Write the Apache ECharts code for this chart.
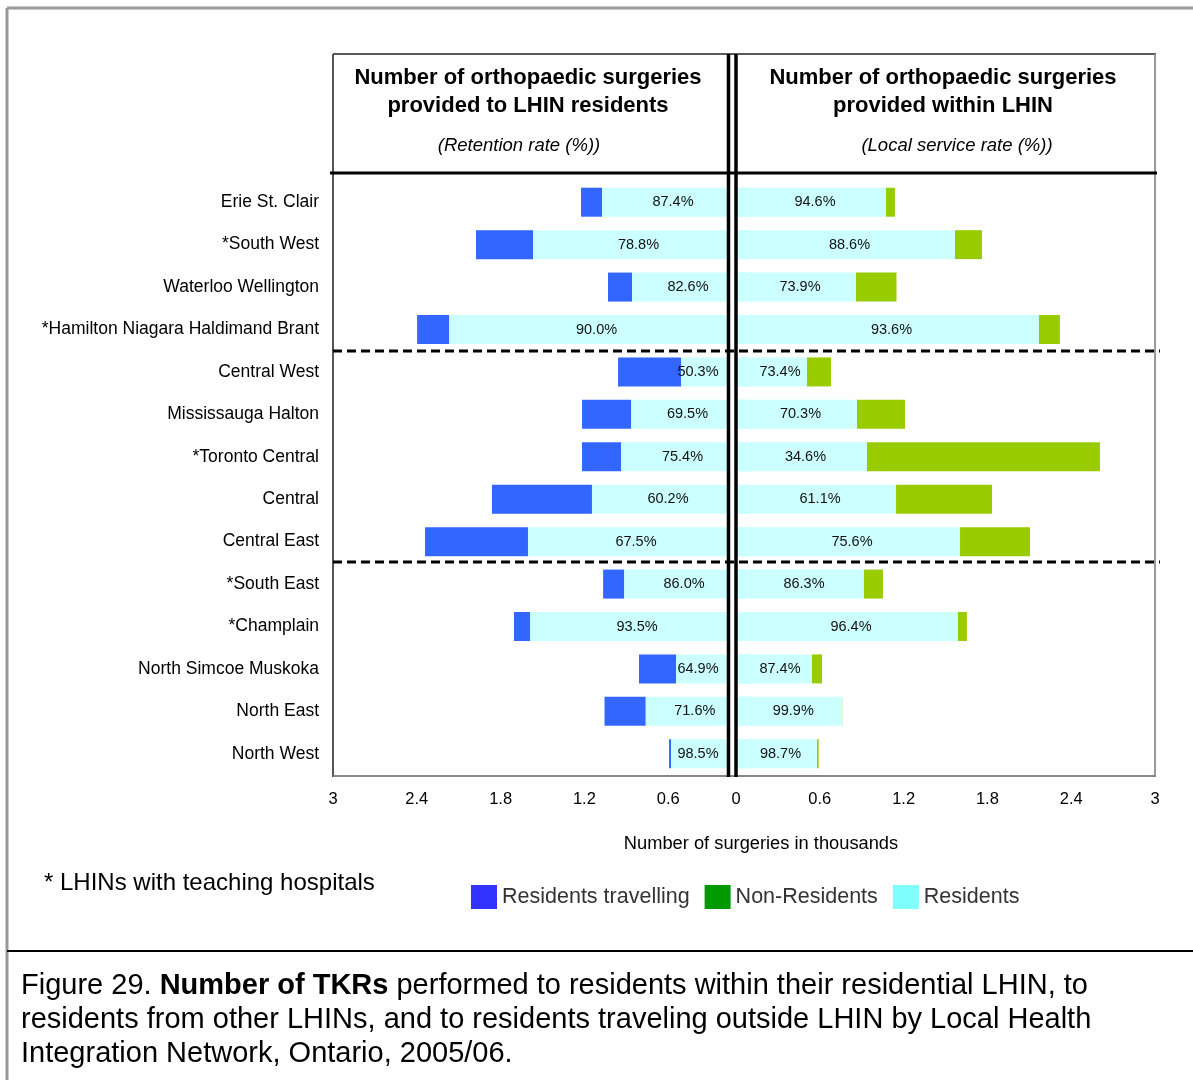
<!DOCTYPE html>
<html>
<head>
<meta charset="utf-8">
<script src="https://cdn.jsdelivr.net/npm/echarts@6/dist/echarts.min.js"></script>
<style>
html,body{margin:0;padding:0;background:#fff;}
#chart{width:1193px;height:1080px;}
</style>
</head>
<body>
<div id="chart"></div>
<script>
// ---------- data ----------
const categories = ['Erie St. Clair','*South West','Waterloo Wellington','*Hamilton Niagara Haldimand Brant','Central West','Mississauga Halton','*Toronto Central','Central','Central East','*South East','*Champlain','North Simcoe Muskoka','North East','North West'];
// thousands of surgeries
const residents    = [1.074,1.568,0.859,2.169,0.508,0.866,0.938,1.146,1.604,0.916,1.589,0.544,0.762,0.580];
const travelling   = [0.150,0.408,0.172,0.229,0.451,0.351,0.279,0.716,0.737,0.150,0.115,0.265,0.294,0.014];
const nonResidents = [0.064,0.193,0.290,0.150,0.172,0.344,1.668,0.687,0.501,0.136,0.064,0.072,0.001,0.012];
const retentionRate = ['87.4%','78.8%','82.6%','90.0%','50.3%','69.5%','75.4%','60.2%','67.5%','86.0%','93.5%','64.9%','71.6%','98.5%'];
const localServiceRate = ['94.6%','88.6%','73.9%','93.6%','73.4%','70.3%','34.6%','61.1%','75.6%','86.3%','96.4%','87.4%','99.9%','98.7%'];
const axisMax = 3, axisStep = 0.6;

// ---------- layout ----------
const FONT = "'Liberation Sans', Arial, Helvetica, sans-serif";
const GL = 333, GR = 736, GW = 419, GT = 181, GH = 594;
const PX = GW / axisMax;
const L0 = GL + GW, R0 = GR;

const leftResData = residents.map((v, i) => {
  const c = L0 - v * PX / 2;
  const d = Math.min(c - 4, 698);
  return { value: v, label: { offset: [d - c, 0] } };
});
const rightResData = residents.map((v, i) => {
  const c = R0 + v * PX / 2;
  const d = Math.max(c + 4, 780);
  return { value: v, label: { offset: [d - c, 0] } };
});

const tickFmt = v => String(Number(v.toFixed(1)));

const chart = echarts.init(document.getElementById('chart'), null, { renderer: 'canvas' });

const Z = 100;
function line(x1, y1, x2, y2, color, w, dash) {
  return { type: 'line', z: Z, silent: true, shape: { x1, y1, x2, y2 },
    style: { stroke: color, lineWidth: w, lineDash: dash || null } };
}
function text(x, y, str, font, align, extra) {
  return Object.assign({ type: 'text', z: Z, silent: true, x, y,
    style: { text: str, font: font, fill: '#000', textAlign: align || 'center', textVerticalAlign: 'middle' } }, extra || {});
}

const option = {
  backgroundColor: '#fff',
  animation: false,
  textStyle: { fontFamily: FONT },
  grid: [
    { left: GL, top: GT, width: GW, height: GH },
    { left: GR, top: GT, width: GW, height: GH }
  ],
  xAxis: [
    { type: 'value', gridIndex: 0, min: 0, max: axisMax, interval: axisStep, inverse: true,
      axisLine: { show: false }, axisTick: { show: false }, splitLine: { show: false },
      axisLabel: { color: '#000', fontSize: 16.5, fontFamily: FONT, margin: 16,
        formatter: v => v === 0 ? '' : tickFmt(v) } },
    { type: 'value', gridIndex: 1, min: 0, max: axisMax, interval: axisStep,
      axisLine: { show: false }, axisTick: { show: false }, splitLine: { show: false },
      axisLabel: { color: '#000', fontSize: 16.5, fontFamily: FONT, margin: 16, formatter: tickFmt } }
  ],
  yAxis: [
    { type: 'category', gridIndex: 0, data: categories, inverse: true,
      axisLine: { show: false }, axisTick: { show: false },
      axisLabel: { color: '#000', fontSize: 17.5, fontFamily: FONT, margin: 14 } },
    { type: 'category', gridIndex: 1, data: categories, inverse: true,
      axisLine: { show: false }, axisTick: { show: false }, axisLabel: { show: false } }
  ],
  legend: {
    left: 471, top: 885, padding: 0, itemWidth: 26, itemHeight: 24, itemGap: 15, icon: 'rect',
    textStyle: { fontSize: 21.5, color: '#333', fontFamily: FONT },
    data: [
      { name: 'Residents travelling', itemStyle: { color: '#3333FF' } },
      { name: 'Non-Residents', itemStyle: { color: '#009900' } },
      { name: 'Residents', itemStyle: { color: '#80FFFF' } }
    ]
  },
  series: [
    { name: 'Residents', type: 'bar', xAxisIndex: 0, yAxisIndex: 0, stack: 'L', barWidth: 29, z: 2,
      itemStyle: { color: '#CCFFFF' }, data: leftResData,
      label: { show: true, position: 'inside', color: '#111', fontSize: 14.5, fontFamily: FONT,
        formatter: p => retentionRate[p.dataIndex] } },
    { name: 'Residents travelling', type: 'bar', xAxisIndex: 0, yAxisIndex: 0, stack: 'L', barWidth: 29, z: 2,
      itemStyle: { color: '#3366FF' }, data: travelling },
    { name: 'Residents', type: 'bar', xAxisIndex: 1, yAxisIndex: 1, stack: 'R', barWidth: 29, z: 5,
      itemStyle: { color: '#CCFFFF' }, data: rightResData,
      label: { show: true, position: 'inside', color: '#111', fontSize: 14.5, fontFamily: FONT,
        formatter: p => localServiceRate[p.dataIndex] } },
    { name: 'Non-Residents', type: 'bar', xAxisIndex: 1, yAxisIndex: 1, stack: 'R', barWidth: 29, z: 5,
      itemStyle: { color: '#99CC00' }, data: nonResidents }
  ],
  graphic: [
    // outer frame
    line(7, 8, 1193, 8, '#999', 3),
    line(7, 8, 7, 1080, '#999', 3),
    line(7, 951, 1193, 951, '#000', 2),
    // plot box
    line(333, 54, 1156, 54, '#222', 1.5),
    line(333, 54, 333, 777, '#555', 2),
    line(1155, 54, 1155, 777, '#999', 2),
    line(333, 776, 1156, 776, '#888', 2),
    line(330, 173, 1157, 173, '#000', 3),
    // gap between double lines + double lines
    { type: 'rect', z: Z - 1, silent: true, shape: { x: 730, y: 54, width: 4.5, height: 723 }, style: { fill: '#fff' } },
    line(728.5, 54, 728.5, 777, '#000', 3.5),
    line(736, 54, 736, 777, '#000', 3.5),
    // dashed group separators
    line(333, 351, 1160, 351, '#000', 3, [9, 5]),
    line(333, 562, 1160, 562, '#000', 3, [9, 5]),
    // header texts
    text(528, 78, 'Number of orthopaedic surgeries', 'bold 22px ' + FONT),
    text(528, 106, 'provided to LHIN residents', 'bold 22px ' + FONT),
    text(519, 146, '(Retention rate (%))', 'italic 18.5px ' + FONT),
    text(943, 78, 'Number of orthopaedic surgeries', 'bold 22px ' + FONT),
    text(943, 106, 'provided within LHIN', 'bold 22px ' + FONT),
    text(957, 146, '(Local service rate (%))', 'italic 18.5px ' + FONT),
    // axis title
    text(761, 844, 'Number of surgeries in thousands', '18.3px ' + FONT),
    // footnote
    text(44, 883, '* LHINs with teaching hospitals', '24px ' + FONT, 'left'),
    // caption
    { type: 'text', z: Z, silent: true, x: 21, y: 969,
      style: {
        text: '{n|Figure 29. }{b|Number of TKRs}{n| performed to residents within their residential LHIN, to}\n{n|residents from other LHINs, and to residents traveling outside LHIN by Local Health}\n{n|Integration Network, Ontario, 2005/06.}',
        fill: '#000',
        rich: {
          n: { fontSize: 29, fontFamily: FONT, lineHeight: 34, fill: '#000' },
          b: { fontSize: 29, fontFamily: FONT, fontWeight: 'bold', lineHeight: 34, fill: '#000' }
        }
      } }
  ]
};
chart.setOption(option);
</script>
</body>
</html>
